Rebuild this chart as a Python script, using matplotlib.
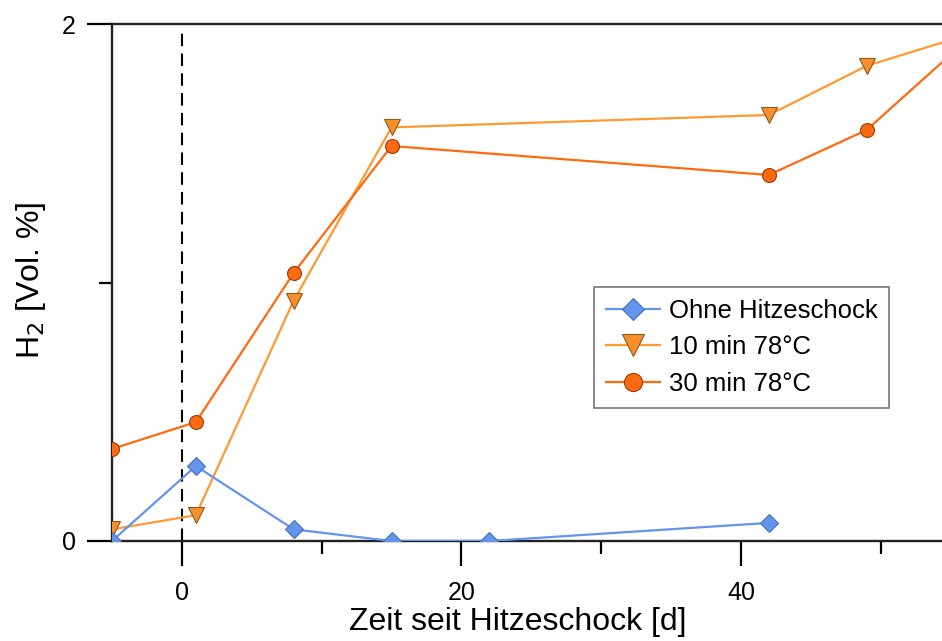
import matplotlib
matplotlib.use("Agg")
import matplotlib.pyplot as plt
from matplotlib.ticker import MultipleLocator

plt.rcParams['font.family'] = ['Liberation Sans', 'DejaVu Sans']

# Data
x_ohne = [-5, 1, 8, 15, 22, 42]
y_ohne = [0.0, 0.29, 0.045, 0.0, 0.0, 0.07]

x_10 = [-5, 1, 8, 15, 42, 49, 56]
y_10 = [0.045, 0.10, 0.93, 1.60, 1.648, 1.838, 1.955]

x_30 = [-5, 1, 8, 15, 42, 49, 56]
y_30 = [0.356, 0.46, 1.037, 1.528, 1.416, 1.59, 1.93]

labels = ["Ohne Hitzeschock", "10 min 78°C", "30 min 78°C"]
xticks_major = [0, 20, 40]

W, H = 942, 641
fig = plt.figure(figsize=(W/100, H/100), dpi=100)
ax = fig.add_axes([112/W, 100/H, 852.5/W, 517/H])

c_blue = '#6495ED'
c_lor = '#FF9A33'
c_dor = '#FF6A10'

ax.plot(x_ohne, y_ohne, color=c_blue, lw=1.6, marker='D', ms=9,
        mfc=c_blue, mec='#4a6fb0', mew=0.8, label=labels[0], zorder=4)
ax.plot(x_10, y_10, color=c_lor, lw=1.6, marker='v', ms=12,
        mfc='#F7902A', mec='#8a5a20', mew=0.8, label=labels[1], zorder=3)
ax.plot(x_30, y_30, color=c_dor, lw=1.6, marker='o', ms=10,
        mfc=c_dor, mec='#9a3a00', mew=0.8, label=labels[2], zorder=3)

ax.axvline(0, ymin=0, ymax=0.985, color='black', lw=1.5, ls=(0, (6, 3.5)), zorder=2)

ax.set_xlim(-5, 56)
ax.set_ylim(0, 2)

ax.xaxis.set_major_locator(plt.FixedLocator(xticks_major))
ax.xaxis.set_minor_locator(MultipleLocator(10))
ax.yaxis.set_major_locator(plt.FixedLocator([0, 2]))
ax.yaxis.set_minor_locator(plt.FixedLocator([1]))

ax.tick_params(axis='both', which='major', direction='out', length=18, width=1.6,
               labelsize=18, colors='black')
ax.tick_params(axis='both', which='minor', direction='out', length=9.5, width=1.6)
ax.tick_params(axis='x', which='major', pad=11)
ax.tick_params(axis='y', which='major', pad=8)

for s in ['left', 'bottom', 'top']:
    ax.spines[s].set_linewidth(1.7)
    ax.spines[s].set_color('#222222')
ax.spines['right'].set_visible(False)

ax.set_xlabel("Zeit seit Hitzeschock [d]", fontsize=23)
ax.set_ylabel("H$_2$ [Vol. %]", fontsize=23)
ax.xaxis.set_label_coords((518 - 112) / 852.5, -(622 - 541) / 517)
ax.yaxis.set_label_coords(-(112 - 31) / 852.5, (541 - 280) / 517)
ax.xaxis.label.set_va('center')
ax.yaxis.label.set_va('center')

leg = ax.legend(loc='upper left', bbox_to_anchor=((594 - 112) / 852.5, (541 - 287) / 517),
                fontsize=18.5, frameon=True, fancybox=False, edgecolor='#555555',
                borderpad=0.45, handlelength=2.1, handletextpad=0.35, labelspacing=0.5,
                borderaxespad=0, markerscale=1.3)
leg.get_frame().set_linewidth(1.2)

fig.savefig("out.png", dpi=100)
